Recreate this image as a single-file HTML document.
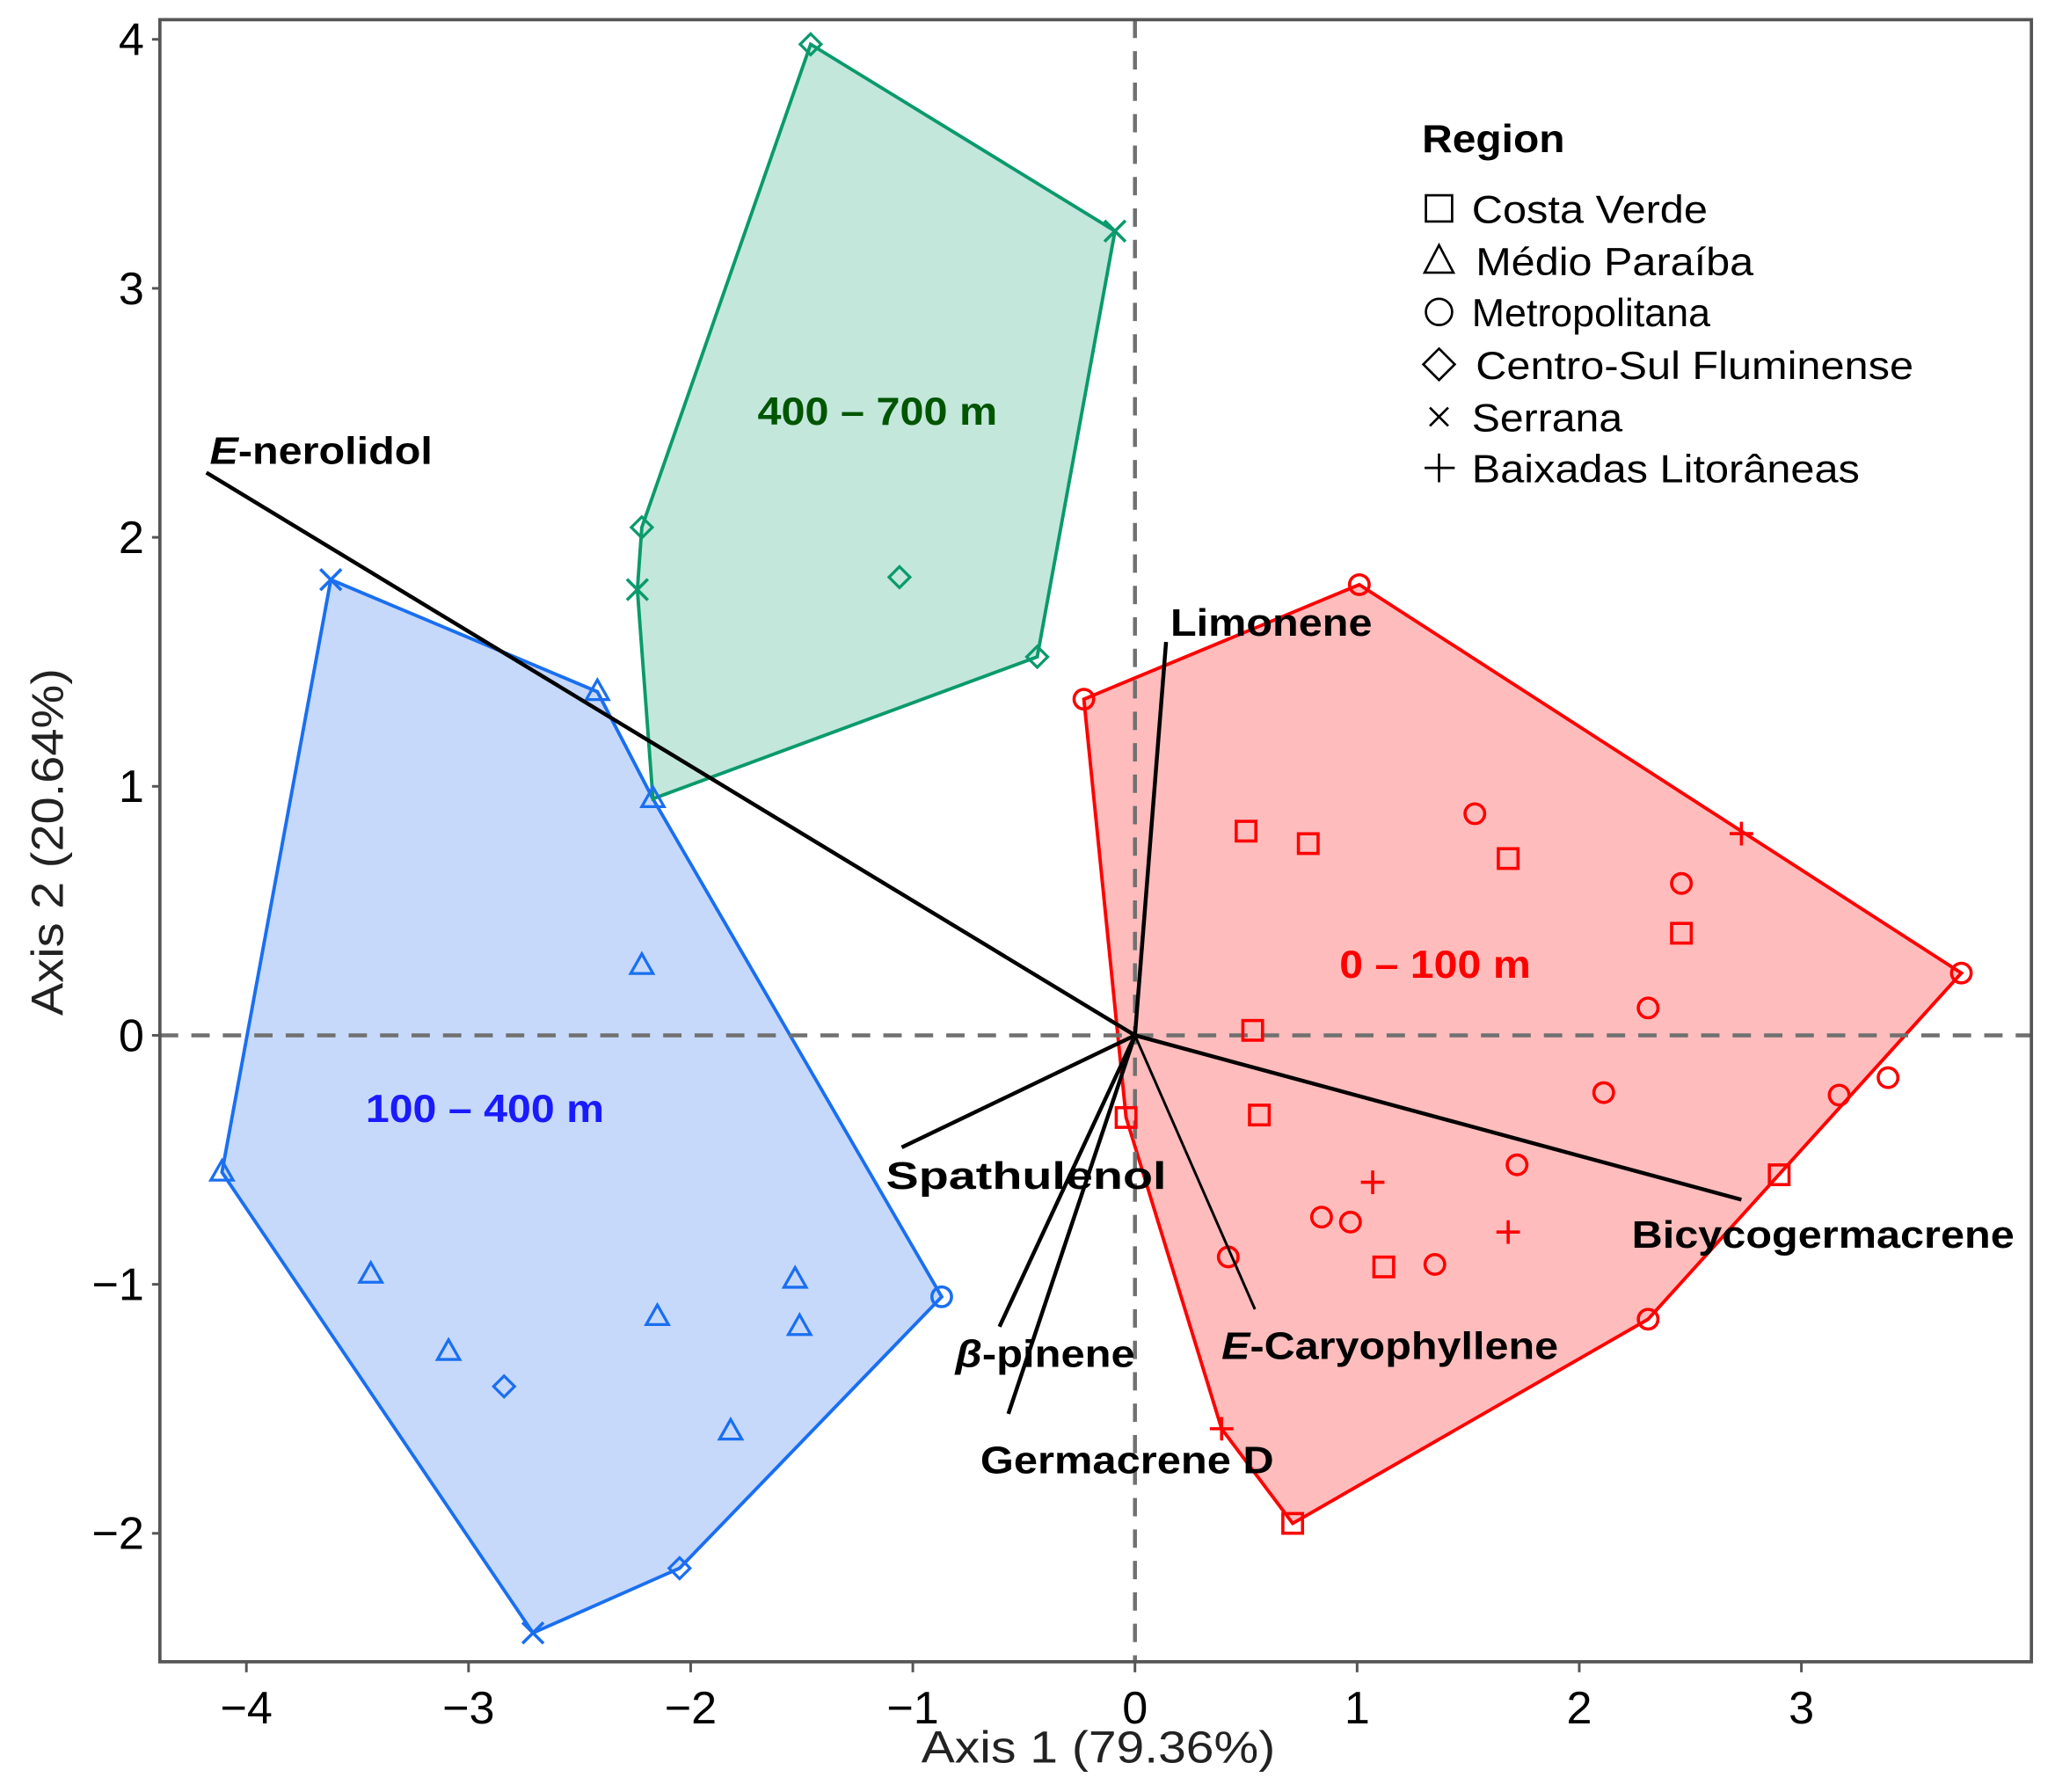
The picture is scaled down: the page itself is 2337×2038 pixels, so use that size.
<!DOCTYPE html>
<html><head><meta charset="utf-8"><style>
html,body{margin:0;padding:0;background:#fff}
svg text{font-family:"Liberation Sans",Arial,sans-serif}
</style></head><body>
<svg id="chart" xmlns="http://www.w3.org/2000/svg" width="2337" height="2033" viewBox="0 0 1568 1364">
<g id="g"></g>
</svg>
<script>
// ---- data (Axis1, Axis2) ----
const xTicks = [-4,-3,-2,-1,0,1,2,3];
const yTicks = [4,3,2,1,0,-1,-2];
const redSquares = [[0.50,0.82],[0.78,0.77],[1.68,0.71],[2.46,0.41],[0.53,0.02],[0.56,-0.32],[-0.04,-0.33],[1.12,-0.93],[2.90,-0.56],[0.71,-1.96]];
const redCircles = [[-0.23,1.35],[1.01,1.81],[1.53,0.89],[2.46,0.61],[3.72,0.25],[2.31,0.11],[2.11,-0.23],[3.17,-0.24],[3.39,-0.17],[1.72,-0.52],[0.84,-0.73],[0.97,-0.75],[1.35,-0.92],[0.42,-0.89],[2.31,-1.14]];
const redPlus = [[2.73,0.81],[1.07,-0.59],[1.68,-0.79],[0.39,-1.58]];
const redHull = [[-0.23,1.35],[1.01,1.81],[3.72,0.25],[2.31,-1.14],[0.71,-1.96],[0.39,-1.58],[-0.04,-0.33]];
const blueCross = [[-3.62,1.83],[-2.71,-2.40]];
const blueTri = [[-2.42,1.38],[-2.17,0.95],[-2.22,0.28],[-4.11,-0.55],[-3.44,-0.96],[-3.09,-1.27],[-2.15,-1.13],[-1.53,-0.98],[-1.51,-1.17],[-1.82,-1.59]];
const blueDiam = [[-2.84,-1.41],[-2.05,-2.14]];
const blueCircles = [[-0.87,-1.05]];
const blueHull = [[-3.62,1.83],[-2.42,1.38],[-2.17,0.95],[-0.87,-1.05],[-2.05,-2.14],[-2.71,-2.40],[-4.11,-0.55]];
const greenDiam = [[-1.46,3.98],[-2.22,2.04],[-1.06,1.84],[-0.44,1.52]];
const greenCross = [[-0.09,3.23],[-2.24,1.79]];
const greenHull = [[-1.46,3.98],[-0.09,3.23],[-0.44,1.52],[-2.17,0.95],[-2.24,1.79],[-2.22,2.04]];
const vecNames = ["E-nerolidol","Limonene","Spathulenol","β-pinene","Germacrene D","E-Caryophyllene","Bicycogermacrene"];
const vecX = [-4.18,0.14,-1.05,-0.61,-0.57,0.54,2.73];
const vecY = [2.26,1.58,-0.45,-1.17,-1.52,-1.10,-0.66];

const NS="http://www.w3.org/2000/svg";
const g=document.getElementById('g');
const L=122,R=1550,T=15,B=1268;
const X=v=>866+v*169.5, Y=v=>790-v*190;
function mk(tag,attrs,parent){const e=document.createElementNS(NS,tag);for(const k in attrs)e.setAttribute(k,attrs[k]);(parent||g).appendChild(e);return e;}

function hull(pts,fill,stroke,name){const e=mk('polygon',{points:pts.map(p=>X(p[0])+','+Y(p[1])).join(' '),fill:fill,stroke:stroke,'stroke-width':2.6});

}
hull(redHull,'#ffbcbc','#ff0000','hull-0-100m');
hull(blueHull,'#c6d9fb','#1a6ff0','hull-100-400m');
hull(greenHull,'#c3e7db','#0a9a6c','hull-400-700m');

let d1=mk('line',{x1:L,x2:R,y1:Y(0),y2:Y(0),stroke:'#707070','stroke-width':3,'stroke-dasharray':'14,10'});


let d2=mk('line',{x1:X(0),x2:X(0),y1:T,y2:B,stroke:'#707070','stroke-width':3,'stroke-dasharray':'14,10'});



function marker(type,p,c){const x=X(p[0]),y=Y(p[1]);let e;
 if(type==='sq')e=mk('rect',{x:x-7.5,y:y-7.5,width:15,height:15,fill:'none',stroke:c,'stroke-width':2.4});
 else if(type==='ci')e=mk('circle',{cx:x,cy:y,r:7.5,fill:'none',stroke:c,'stroke-width':2.4});
 else if(type==='tr')e=mk('polygon',{points:`${x},${y-9} ${x-8.5},${y+6} ${x+8.5},${y+6}`,fill:'none',stroke:c,'stroke-width':2.2});
 else if(type==='di')e=mk('polygon',{points:`${x},${y-8} ${x+8},${y} ${x},${y+8} ${x-8},${y}`,fill:'none',stroke:c,'stroke-width':2.2});
 else if(type==='x')e=mk('path',{d:`M${x-8},${y-8}L${x+8},${y+8}M${x-8},${y+8}L${x+8},${y-8}`,stroke:c,'stroke-width':2.4});
 else e=mk('path',{d:`M${x-9},${y}L${x+9},${y}M${x},${y-9}L${x},${y+9}`,stroke:c,'stroke-width':2.4});
 
 
}
redSquares.forEach(p=>marker('sq',p,'#ff0000'));
redCircles.forEach(p=>marker('ci',p,'#ff0000'));
redPlus.forEach(p=>marker('pl',p,'#ff0000'));
blueCross.forEach(p=>marker('x',p,'#1a6ff0'));
blueTri.forEach(p=>marker('tr',p,'#1a6ff0'));
blueDiam.forEach(p=>marker('di',p,'#1a6ff0'));
blueCircles.forEach(p=>marker('ci',p,'#1a6ff0'));
greenDiam.forEach(p=>marker('di',p,'#0a9a6c'));
greenCross.forEach(p=>marker('x',p,'#0a9a6c'));

const labPos=[[160,354,170],[893,485,154],[676,907,214],[729,1043,137],[748,1124,224],[932,1037,257],[1245,952,292]];
vecNames.forEach((n,i)=>{
 const l=mk('line',{x1:X(0),y1:Y(0),x2:X(vecX[i]),y2:Y(vecY[i]),stroke:'#000','stroke-width':(i==5?2:3)});
 
 
 const t=mk('text',{x:labPos[i][0],y:labPos[i][1],'font-size':29,'font-weight':'bold',fill:'#000',textLength:labPos[i][2],lengthAdjust:'spacingAndGlyphs'});
 
 
 if(n.startsWith('E-')){const s=mk('tspan',{'font-style':'italic'},t);s.textContent='E';const s2=mk('tspan',{},t);s2.textContent=n.slice(1);}
 else if(n.startsWith('β')){const s=mk('tspan',{'font-style':'italic'},t);s.textContent='β';const s2=mk('tspan',{},t);s2.textContent=n.slice(1);}
 else t.textContent=n;
});

[['400 – 700 m',578,324,'#005500','group-label-400-700',183],['0 – 100 m',1022,746,'#ff0000','group-label-0-100',146],['100 – 400 m',279,856,'#1a1aff','group-label-100-400',182]].forEach(a=>{
 const t=mk('text',{x:a[1],y:a[2],'font-size':30,'font-weight':'bold',fill:a[3],textLength:a[5],lengthAdjust:'spacingAndGlyphs'});t.textContent=a[0];
 
 
});

const fr=mk('rect',{x:L,y:T,width:R-L,height:B-T,fill:'none',stroke:'#555','stroke-width':2.5});


xTicks.forEach(v=>{mk('line',{x1:X(v),x2:X(v),y1:B,y2:B+8,stroke:'#555','stroke-width':2});
 const t=mk('text',{x:X(v),y:B+47,'text-anchor':'middle','font-size':35,fill:'#000'});t.textContent=(v<0?'−':'')+Math.abs(v);
 
 });
yTicks.forEach(v=>{mk('line',{x1:L-6,x2:L,y1:Y(v),y2:Y(v),stroke:'#555','stroke-width':2});
 const t=mk('text',{x:L-12,y:Y(v)+12,'text-anchor':'end','font-size':35,fill:'#000'});t.textContent=(v<0?'−':'')+Math.abs(v);
 
 });
</script>
<svg style="position:absolute;left:0;top:0" width="2337" height="2033" viewBox="0 0 1568 1364" xmlns="http://www.w3.org/2000/svg">
<text x="703" y="1345" font-size="34" textLength="270" lengthAdjust="spacingAndGlyphs" font-family="Liberation Sans, sans-serif" fill="#222">Axis 1 (79.36%)</text>
<text transform="translate(48,775) rotate(-90)" font-size="34" textLength="265" lengthAdjust="spacingAndGlyphs" font-family="Liberation Sans, sans-serif" fill="#222">Axis 2 (20.64%)</text>
<g font-family="Liberation Sans, sans-serif" font-size="30" fill="#000">
<text x="1085" y="116" font-weight="bold" textLength="109" lengthAdjust="spacingAndGlyphs">Region</text>
<rect x="1088" y="149" width="20" height="20" fill="none" stroke="#000" stroke-width="1.8"/>
<text x="1123" y="170" textLength="180" lengthAdjust="spacingAndGlyphs">Costa Verde</text>
<polygon points="1098,187 1087,208 1109,208" fill="none" stroke="#000" stroke-width="1.8"/>
<text x="1126" y="210" textLength="212" lengthAdjust="spacingAndGlyphs">Médio Paraíba</text>
<circle cx="1098" cy="238" r="10" fill="none" stroke="#000" stroke-width="1.8"/>
<text x="1123" y="249" textLength="182" lengthAdjust="spacingAndGlyphs">Metropolitana</text>
<polygon points="1098,266 1110,278 1098,290 1086,278" fill="none" stroke="#000" stroke-width="1.8"/>
<text x="1126" y="289" textLength="334" lengthAdjust="spacingAndGlyphs">Centro-Sul Fluminense</text>
<path d="M1091,311L1105,325M1091,325L1105,311" stroke="#000" stroke-width="1.8"/>
<text x="1123" y="329" textLength="115" lengthAdjust="spacingAndGlyphs">Serrana</text>
<path d="M1087,357L1110,357M1098,346L1098,368" stroke="#000" stroke-width="1.8"/>
<text x="1123" y="368" textLength="296" lengthAdjust="spacingAndGlyphs">Baixadas Litorâneas</text>
</g>
</svg>
</body></html>
